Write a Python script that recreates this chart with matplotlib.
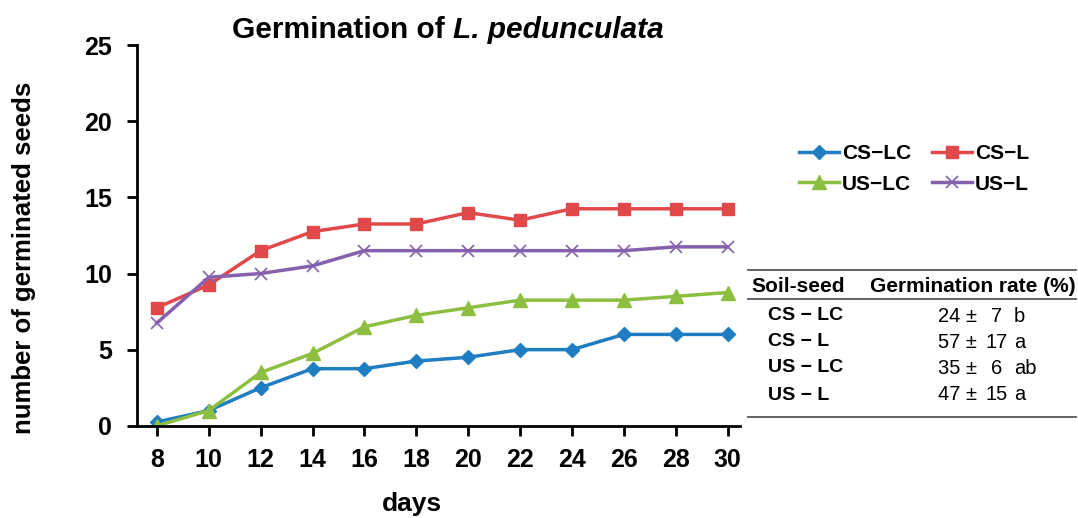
from matplotlib import pyplot as plt
from matplotlib.lines import Line2D
import numpy as np

# data
days = [8, 10, 12, 14, 16, 18, 20, 22, 24, 26, 28, 30]
cs_lc = [0.25, 1, 2.5, 3.75, 3.75, 4.25, 4.5, 5, 5, 6, 6, 6]
cs_l = [7.75, 9.25, 11.5, 12.75, 13.25, 13.25, 14, 13.5, 14.25, 14.25, 14.25, 14.25]
us_lc = [0, 1, 3.5, 4.75, 6.5, 7.25, 7.75, 8.25, 8.25, 8.25, 8.5, 8.75]
us_l = [6.75, 9.75, 10, 10.5, 11.5, 11.5, 11.5, 11.5, 11.5, 11.5, 11.75, 11.75]

# germination rate table
table_groups = ['CS \u2212 LC', 'CS \u2212 L', 'US \u2212 LC', 'US \u2212 L']
rate_mean = [24, 57, 35, 47]
rate_sd = [7, 17, 6, 15]
rate_letter = ['b', 'a', 'ab', 'a']

plt.rcParams['font.family'] = ['Liberation Sans', 'DejaVu Sans']

fig = plt.figure(figsize=(10.78, 5.18), dpi=100)
ax = fig.add_axes([0.127, 0.178, 0.559, 0.735])

W, H = 1078, 518
def fx(px):
    return px / W
def fy(py):
    return 1 - py / H

lw = 2.5
l1, = ax.plot(days, cs_lc, color='#1f7dc1', marker='D', ms=7, lw=lw)
l2, = ax.plot(days, cs_l, color='#e0484a', marker='s', ms=9, lw=lw)
l3, = ax.plot(days, us_lc, color='#8cbf3f', marker='^', ms=10, lw=lw)
l4, = ax.plot(days, us_l, color='#8560ad', marker='x', ms=9, mew=1.2, lw=lw)

ax.set_xlim(7.23, 30.46)
ax.set_ylim(0, 25)
ax.set_xticks(days)
ax.set_yticks(np.arange(0, 26, 5))
for s in ['top', 'right']:
    ax.spines[s].set_visible(False)
for s in ['left', 'bottom']:
    ax.spines[s].set_linewidth(2)
ax.tick_params(direction='out', length=7, width=2, labelsize=18)
ax.tick_params(axis='y', pad=11)
ax.tick_params(axis='x', pad=9)
for lab in ax.get_xticklabels() + ax.get_yticklabels():
    lab.set_fontweight('bold')

# axis labels placed where they sit in the original
fig.text(fx(412), fy(504), 'days', fontsize=19, fontweight='bold',
         ha='center', va='center')
fig.text(fx(24), fy(258), 'number of germinated seeds', fontsize=18.5,
         fontweight='bold', rotation=90, ha='center', va='center')

# title: upright part + italic species name
t1 = fig.text(fx(232), fy(30), 'Germination of ', fontsize=21.5, fontweight='bold',
              va='center')
fig.canvas.draw()
bb = t1.get_window_extent()
fig.text(bb.x1 / W, fy(30), 'L. pedunculata', fontsize=21.5, fontweight='bold',
         style='italic', va='center')

fig.legend([l1, l3, l2, l4], ['CS\u2212LC', 'US\u2212LC', 'CS\u2212L', 'US\u2212L'],
           loc='center', bbox_to_anchor=(fx(914), fy(169)), ncol=2, frameon=False,
           prop={'weight': 'bold', 'size': 15}, handlelength=1.9,
           columnspacing=1.0, handletextpad=0.15, labelspacing=0.55)

# summary table drawn in figure coordinates
for yy in [270, 299, 417]:
    fig.add_artist(Line2D([fx(748), fx(1076)], [fy(yy), fy(yy)],
                          color='#555555', lw=1.3))
fig.text(fx(751), fy(286), 'Soil-seed', fontsize=15, fontweight='bold', va='center')
fig.text(fx(1076), fy(286), 'Germination rate (%)', fontsize=15, fontweight='bold',
         va='center', ha='right')
row_y = [316, 342, 368, 395]
for g, m, sd, let, yy in zip(table_groups, rate_mean, rate_sd, rate_letter, row_y):
    fig.text(fx(768), fy(yy), g, fontsize=14, fontweight='bold', va='center')
    fig.text(fx(938), fy(yy), f'{m} \u00b1', fontsize=14.5, va='center')
    fig.text(fx(997), fy(yy), f'{sd}', fontsize=14.5, va='center', ha='center')
    fig.text(fx(1014), fy(yy), let, fontsize=14.5, va='center')

fig.savefig('out.png', dpi=100)
